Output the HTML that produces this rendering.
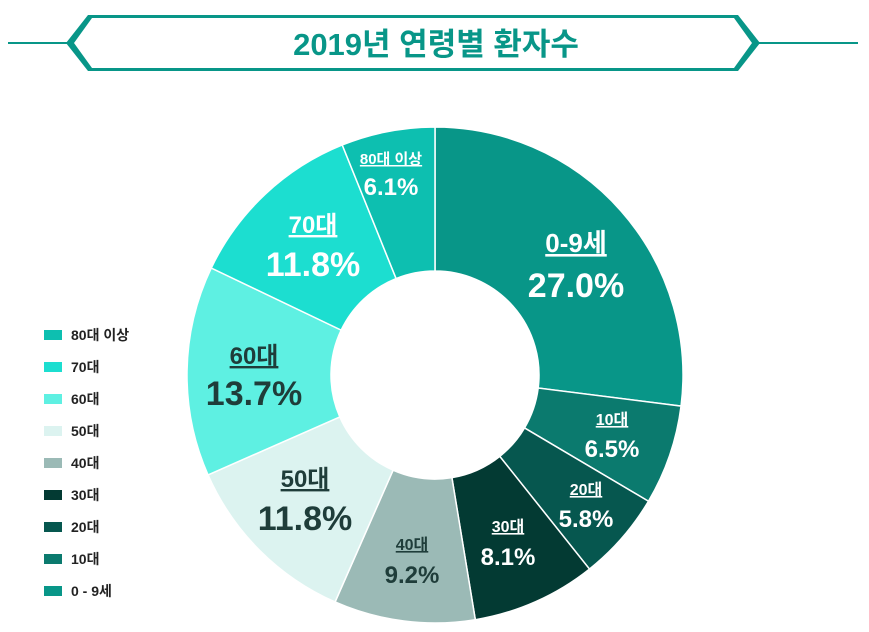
<!DOCTYPE html>
<html><head><meta charset="utf-8"><style>
body{margin:0;width:869px;height:627px;background:#fff;overflow:hidden;font-family:"Liberation Sans","Noto Sans CJK KR",sans-serif;}
svg text{font-family:"Liberation Sans","Noto Sans CJK KR",sans-serif;font-weight:bold;}
</style></head><body>
<svg id="s" width="869" height="627" viewBox="0 0 869 627">
<line x1="8" y1="43" x2="68" y2="43" stroke="#089688" stroke-width="2"/>
<line x1="756" y1="43" x2="858" y2="43" stroke="#089688" stroke-width="2"/>
<polygon points="66,43 88,15 738,15 760,43 738,71 88,71" fill="#089688"/>
<polygon points="74,43 92,18 734,18 752,43 734,68 92,68" fill="#fff"/>
<text x="436" y="55" text-anchor="middle" font-size="31" fill="#089688">2019년 연령별 환자수</text>
<g id="pie"></g>
<g font-size="14" fill="#222">
<rect x="44" y="330" width="18" height="10" fill="#0dbfb0"/><text x="71" y="340">80대 이상</text>
<rect x="44" y="362" width="18" height="10" fill="#1cded0"/><text x="71" y="372">70대</text>
<rect x="44" y="394" width="18" height="10" fill="#5ef0e2"/><text x="71" y="404">60대</text>
<rect x="44" y="426" width="18" height="10" fill="#dcf3f0"/><text x="71" y="436">50대</text>
<rect x="44" y="458" width="18" height="10" fill="#9bbab6"/><text x="71" y="468">40대</text>
<rect x="44" y="490" width="18" height="10" fill="#033a33"/><text x="71" y="500">30대</text>
<rect x="44" y="522" width="18" height="10" fill="#06574f"/><text x="71" y="532">20대</text>
<rect x="44" y="554" width="18" height="10" fill="#0b7a6e"/><text x="71" y="564">10대</text>
<rect x="44" y="586" width="18" height="10" fill="#089688"/><text x="71" y="596">0 - 9세</text>
</g>
<g text-anchor="middle">
<text x="576" y="252" font-size="26" fill="#fff" text-decoration="underline">0-9세</text>
<text x="576" y="297" font-size="34" fill="#fff">27.0%</text>
<text x="612" y="425" font-size="16" fill="#fff" text-decoration="underline">10대</text>
<text x="612" y="457" font-size="24" fill="#fff">6.5%</text>
<text x="586" y="495" font-size="16" fill="#fff" text-decoration="underline">20대</text>
<text x="586" y="527" font-size="24" fill="#fff">5.8%</text>
<text x="508" y="532" font-size="16" fill="#fff" text-decoration="underline">30대</text>
<text x="508" y="565" font-size="24" fill="#fff">8.1%</text>
<text x="412" y="550" font-size="16" fill="#1f3d3a" text-decoration="underline">40대</text>
<text x="412" y="583" font-size="24" fill="#1f3d3a">9.2%</text>
<text x="305" y="487" font-size="24" fill="#1f3d3a" text-decoration="underline">50대</text>
<text x="305" y="530" font-size="34" fill="#1f3d3a">11.8%</text>
<text x="254" y="364" font-size="24" fill="#1f3d3a" text-decoration="underline">60대</text>
<text x="254" y="405" font-size="34" fill="#1f3d3a">13.7%</text>
<text x="313" y="233" font-size="24" fill="#fff" text-decoration="underline">70대</text>
<text x="313" y="276" font-size="34" fill="#fff">11.8%</text>
<text x="391" y="164" font-size="15" fill="#fff" text-decoration="underline">80대 이상</text>
<text x="391" y="195" font-size="24" fill="#fff">6.1%</text>
</g>
</svg>
<script>
var d=[[27,"#089688"],[6.5,"#0b7a6e"],[5.8,"#06574f"],[8.1,"#033a33"],[9.2,"#9bbab6"],[11.8,"#dcf3f0"],[13.7,"#5ef0e2"],[11.8,"#1cded0"],[6.1,"#0dbfb0"]];
var cx=435,cy=375,R=248,r=104,a=0,h="";
function p(rad,ang){var t=(ang-90)*Math.PI/180;return (cx+rad*Math.cos(t)).toFixed(2)+","+(cy+rad*Math.sin(t)).toFixed(2);}
d.forEach(function(x){var b=a+x[0]*3.6,l=(b-a)>180?1:0;
h+='<path d="M'+p(R,a)+' A'+R+','+R+' 0 '+l+' 1 '+p(R,b)+' L'+p(r,b)+' A'+r+','+r+' 0 '+l+' 0 '+p(r,a)+' Z" fill="'+x[1]+'" stroke="#fff" stroke-width="1.5"/>';a=b;});
document.getElementById("pie").innerHTML=h;
</script>
</body></html>
